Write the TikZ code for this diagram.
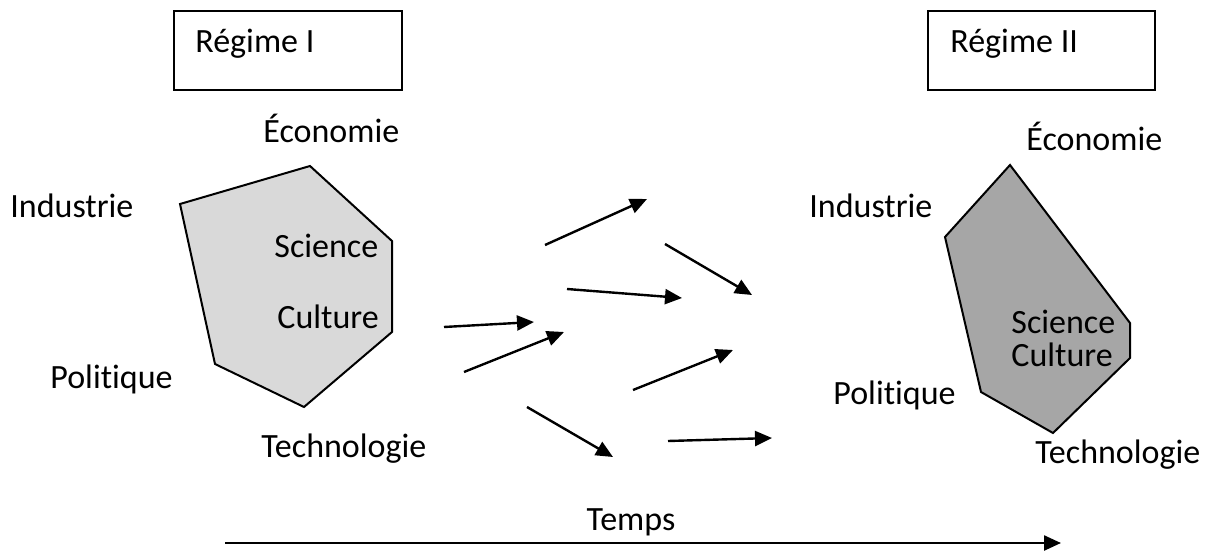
\documentclass[tikz,border=0pt]{standalone}
\usepackage{fontspec}
\setmainfont{Carlito}[Ligatures=NoCommon]
\usepackage{xcolor}
\usetikzlibrary{arrows.meta, positioning}

\definecolor{lightfill}{HTML}{D9D9D9}
\definecolor{darkfill}{HTML}{A6A6A6}

\begin{document}
\begin{tikzpicture}[x=0.5pt, y=-0.5pt, lbl/.style={anchor=base west, inner sep=0pt, font=\fontsize{17}{20}\selectfont}, regime/.style={draw, line width=1pt, inner sep=0pt}, poly/.style={draw, line width=1pt, line join=miter}, flow/.style={-{Triangle[length=8.5pt, width=7.5pt]}, line width=1.2pt}]

            \useasboundingbox (0,0) rectangle (1215,551);

            % regime boxes
            \draw[regime] (174,11) rectangle (402,90);
            \draw[regime] (928,11) rectangle (1155,90);
            \node[lbl] (R1) at (195,53) {Régime I};
            \node[lbl] (R2) at (950,53) {Régime II};

            % regime I
            \filldraw[poly, fill=lightfill] (310,166) -- (392,241) -- (392,332) -- (304,407) -- (215,364) -- (180,204) -- cycle;
            \node[lbl] (E1) at (263,142) {Économie};
            \node[lbl] (I1) at (10,217) {Industrie};
            \node[lbl] (S1) at (274,257) {Science};
            \node[lbl] (C1) at (277,328) {Culture};
            \node[lbl] (P1) at (50,388) {Politique};
            \node[lbl] (T1) at (261,457) {Technologie};

            % regime II
            \filldraw[poly, fill=darkfill] (1010,165) -- (1130,323) -- (1130,358) -- (1053,433) -- (981,392) -- (945,237) -- cycle;
            \node[lbl] (E2) at (1026,150) {Économie};
            \node[lbl] (I2) at (809,217) {Industrie};
            \node[lbl] (S2) at (1011,333) {Science};
            \node[lbl] (C2) at (1011,366) {Culture};
            \node[lbl] (P2) at (833,404) {Politique};
            \node[lbl] (T2) at (1035,463) {Technologie};

            % transition
            \foreach \i/\sx/\sy/\ex/\ey in {1/545/245/647/199, 2/665/244/752/295, 3/567/289/682/298, 4/444/327/534/322, 5/464/372/564/332, 6/633/390/733/350, 7/527/407/613/457, 8/668/441/772/438}{
                \coordinate (s\i) at (\sx,\sy);
                \coordinate (e\i) at (\ex,\ey);
                \draw[flow] (s\i) -- (e\i);
            }

            % time axis
            \coordinate (t0) at (225,543);
            \coordinate (t1) at (1061,543);
            \draw[flow] (t0) -- (t1);
            \node[lbl, anchor=base] (tps) at (631,530) {Temps};

        \end{tikzpicture}
\end{document}
